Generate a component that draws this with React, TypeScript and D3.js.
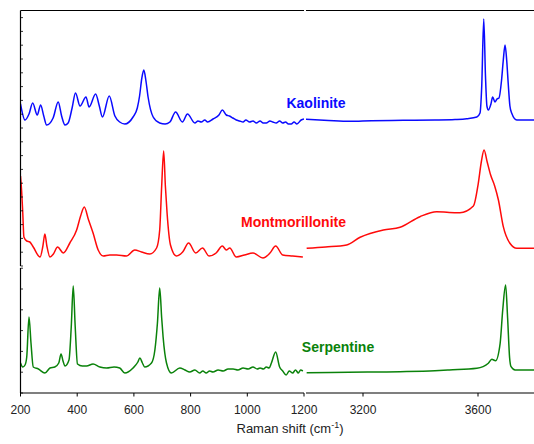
import React from "react";
import * as d3 from "d3";

// Raman shift (cm-1), intensity (arbitrary units, offset stacked)
const kaoliniteLow: [number, number][] = [
  [200, 162], [216, 146], [230, 152], [243, 163], [259, 151], [271, 161], [282, 150], [292, 141],
  [315, 148], [333, 164], [345, 150], [357, 141], [368, 143], [382, 158], [394, 173],
  [410, 160], [431, 169], [442, 159], [465, 172], [478, 160], [489, 149], [513, 170],
  [533, 150], [550, 144], [568, 142], [597, 149], [612, 158], [620, 170], [628, 188], [635, 196],
  [642, 186], [650, 169], [668, 149], [691, 143], [710, 142], [727, 144], [747, 154], [771, 144],
  [789, 152], [815, 143], [826, 145], [838, 144], [850, 146], [860, 144], [879, 147], [900, 151],
  [912, 156], [926, 151], [937, 150], [949, 148], [961, 146], [973, 145], [985, 144], [995, 146],
  [1008, 144], [1020, 145], [1032, 143], [1045, 145], [1056, 143], [1067, 143], [1080, 145],
  [1090, 144], [1102, 143], [1114, 145], [1125, 143], [1135, 144], [1145, 142], [1155, 142],
  [1165, 144], [1175, 142], [1190, 146], [1200, 147]
];
const kaoliniteHigh: [number, number][] = [
  [3000, 146.7], [3080, 145.5], [3155, 144.7], [3230, 145.3], [3300, 145.5], [3380, 145.8],
  [3450, 146], [3520, 146.5], [3561, 147.3], [3596, 149], [3607, 153], [3613, 180], [3620, 247],
  [3626, 190], [3631, 160], [3636, 156], [3645, 162], [3651, 169], [3659, 164], [3666, 167],
  [3673, 168], [3682, 186], [3688, 206], [3694, 221], [3700, 205], [3705, 183], [3711, 160],
  [3717, 153], [3735, 146], [3800, 146]
];
const montmorilloniteLow: [number, number][] = [
  [200, 90], [204, 75], [208, 53], [212, 29], [222, 25], [233, 24], [245, 19], [269, 9],
  [279, 20], [286, 32], [293, 20], [304, 9], [316, 12], [331, 19], [351, 13], [374, 23],
  [398, 36], [412, 50], [425, 59], [439, 47], [456, 33], [474, 16], [492, 10], [515, 11],
  [539, 11], [574, 10], [603, 16], [627, 14], [656, 12], [680, 18], [691, 36], [698, 80],
  [705, 115], [711, 80], [717, 53], [729, 21], [750, 10], [772, 14], [793, 23], [818, 13],
  [842, 18], [865, 10], [890, 13], [912, 20], [926, 16], [938, 18], [961, 9], [990, 11],
  [1020, 13], [1055, 8], [1080, 13], [1100, 20], [1125, 11], [1160, 10], [1196, 9]
];
const montmorilloniteHigh: [number, number][] = [
  [3004, 17.7], [3070, 19], [3143, 21], [3190, 28.7], [3271, 36], [3329, 38.7], [3398, 49.3],
  [3456, 54.3], [3500, 53.5], [3537, 53.3], [3584, 60], [3601, 82.7], [3612, 105], [3621, 116],
  [3632, 104], [3644, 91], [3658, 80], [3671, 66], [3688, 39.3], [3711, 22.7], [3735, 17.7],
  [3800, 17.7]
];
const serpentineLow: [number, number][] = [
  [200, 30], [208, 26], [216, 28], [222, 36], [230, 76], [237, 50], [245, 26], [263, 24],
  [286, 20], [304, 25], [321, 26], [335, 30], [343, 39], [350, 32], [357, 27], [371, 33], [379, 66],
  [386, 107], [393, 66], [401, 29], [418, 27], [433, 27], [456, 29], [480, 26], [504, 25],
  [530, 26], [550, 25], [568, 20], [597, 25], [614, 31], [621, 35], [630, 30], [638, 26], [662, 30],
  [674, 43], [683, 70], [691, 105], [698, 75], [703, 56], [715, 30], [732, 20], [762, 25],
  [780, 23], [797, 21], [815, 23], [832, 20], [843, 22], [855, 20], [867, 22], [879, 21],
  [897, 23], [915, 22], [932, 24], [950, 24], [967, 23], [985, 25], [1003, 24], [1020, 26],
  [1035, 24], [1045, 25], [1057, 24], [1067, 26], [1077, 25], [1085, 30], [1100, 41], [1114, 26],
  [1125, 22], [1137, 18], [1148, 22], [1160, 20], [1170, 23], [1180, 20], [1188, 23], [1196, 22]
];
const serpentineHigh: [number, number][] = [
  [3004, 20.3], [3150, 20.8], [3329, 21.3], [3450, 22.2], [3500, 23], [3596, 24.7], [3636, 29.7],
  [3648, 33.7], [3661, 32.3], [3677, 49.7], [3686, 83], [3696, 108], [3703, 75], [3710, 35],
  [3715, 26.3], [3729, 23], [3800, 23]
];

const lowTicks = [200, 400, 600, 800, 1000, 1200];
const highTicks = [3200, 3600];
const labels = ["Kaolinite", "Montmorillonite", "Serpentine"];
const colors = ["#0a0aff", "#ff0a0a", "#0a820a"];

export default function App() {
  const W = 534, H = 444;
  const left = 20.5, breakL = 304, breakR = 306, right = 535.5;
  const top = 10.5, bottom = 393, segBreakTop = 266, segBreakBot = 268;

  const xLow = d3.scaleLinear().domain([200, 1200]).range([left, breakL]);
  const xHigh = d3.scaleLinear().domain([3000, 3800]).range([breakR - 0.5, right]);
  const yTop = d3.scaleLinear().domain([0, 255.5]).range([segBreakTop, top]);
  const yBot = d3.scaleLinear().domain([0, 125]).range([bottom, segBreakBot]);

  const mk = (xs: d3.ScaleLinear<number, number>, ys: d3.ScaleLinear<number, number>) =>
    d3.line<[number, number]>().x(d => xs(d[0])).y(d => ys(d[1])).curve(d3.curveMonotoneX);

  const series = [
    { low: kaoliniteLow, high: kaoliniteHigh, y: yTop, color: colors[0] },
    { low: montmorilloniteLow, high: montmorilloniteHigh, y: yTop, color: colors[1] },
    { low: serpentineLow, high: serpentineHigh, y: yBot, color: colors[2] },
  ];

  const topTicks = d3.range(0, 256, 13.8);
  const botTicks = d3.range(0, 126, 20.8);

  const labelPos = [
    { x: 316, y: 108 },
    { x: 293.5, y: 227 },
    { x: 338, y: 351.5 },
  ];

  return (
    <svg width={W} height={H} style={{ position: "absolute", left: 0, top: 0, background: "#fff" }}
      fontFamily="Liberation Sans, Arial, sans-serif">
      <defs>
        <clipPath id="cl"><rect x={left} y={0} width={breakL - left} height={H} /></clipPath>
        <clipPath id="cr"><rect x={breakR} y={0} width={W - breakR} height={H} /></clipPath>
      </defs>
      {series.map((s, i) => (
        <g key={i} fill="none" stroke={s.color} strokeWidth={1.5} strokeLinejoin="round">
          <path d={mk(xLow, s.y)(s.low) || ""} clipPath="url(#cl)" />
          <path d={mk(xHigh, s.y)(s.high) || ""} clipPath="url(#cr)" />
        </g>
      ))}
      <g stroke="#000" strokeWidth={1.2} fill="none">
        <line x1={left} x2={breakL} y1={top} y2={top} />
        <line x1={breakR} x2={W} y1={top} y2={top} />
        <line x1={left} x2={breakL} y1={bottom} y2={bottom} />
        <line x1={breakR} x2={W} y1={bottom} y2={bottom} />
        <line x1={left} x2={left} y1={top} y2={segBreakTop} />
        <line x1={left} x2={left} y1={segBreakBot} y2={bottom} />
      </g>
      <g stroke="#000" strokeWidth={0.8}>
        {topTicks.map((t, i) => (
          <line key={"t" + i} x1={left} x2={left + 2.5} y1={yTop(t)} y2={yTop(t)} />
        ))}
        {botTicks.map((t, i) => (
          <line key={"b" + i} x1={left} x2={left + 2.5} y1={yBot(t)} y2={yBot(t)} />
        ))}
      </g>
      <g stroke="#000" strokeWidth={1}>
        {lowTicks.map(t => (
          <line key={t} x1={xLow(t)} x2={xLow(t)} y1={bottom} y2={bottom + 3.5} />
        ))}
        {highTicks.map(t => (
          <line key={t} x1={xHigh(t)} x2={xHigh(t)} y1={bottom} y2={bottom + 3.5} />
        ))}
      </g>
      <g fontSize={12} fill="#222" textAnchor="middle">
        {lowTicks.map(t => (
          <text key={t} x={xLow(t)} y={414}>{t}</text>
        ))}
        {highTicks.map(t => (
          <text key={t} x={xHigh(t)} y={414}>{t}</text>
        ))}
      </g>
      <text x={290} y={433} fontSize={13} fill="#222" textAnchor="middle">
        Raman shift (cm<tspan dy={-5} fontSize={9}>-1</tspan><tspan dy={5}>)</tspan>
      </text>
      {labels.map((l, i) => (
        <text key={l} x={labelPos[i].x} y={labelPos[i].y} fontSize={14} fontWeight="bold"
          fill={colors[i]} textAnchor="middle">{l}</text>
      ))}
    </svg>
  );
}
